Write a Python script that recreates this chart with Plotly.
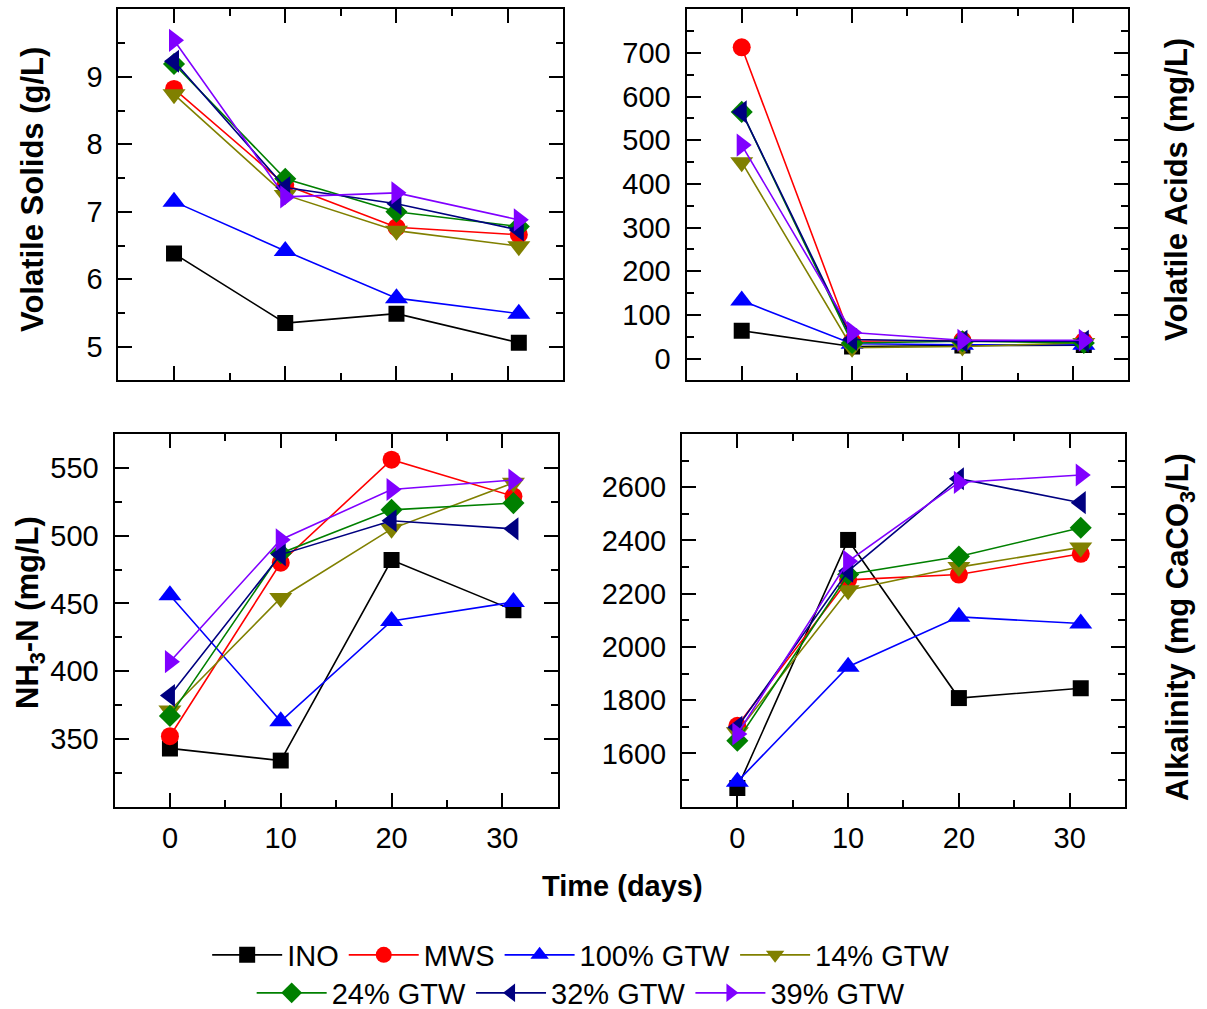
import plotly.graph_objects as go

# ---- data ----
time_days = [0, 10, 20, 31]
series_names = ["INO", "MWS", "100% GTW", "14% GTW", "24% GTW", "32% GTW", "39% GTW"]

vs_ino = [6.38, 5.35, 5.49, 5.06]
vs_mws = [8.82, 7.40, 6.77, 6.66]
vs_100 = [7.15, 6.42, 5.72, 5.49]
vs_14 = [8.74, 7.25, 6.72, 6.49]
vs_24 = [9.19, 7.49, 7.00, 6.78]
vs_32 = [9.23, 7.36, 7.12, 6.73]
vs_39 = [9.54, 7.22, 7.28, 6.88]

va_ino = [64, 28, 30, 31]
va_mws = [713, 40, 42, 40]
va_100 = [133, 34, 32, 32]
va_14 = [450, 25, 28, 36]
va_24 = [565, 36, 40, 36]
va_32 = [565, 44, 40, 40]
va_39 = [489, 60, 42, 42]

nh_ino = [343, 334, 482, 445]
nh_mws = [352, 480, 556, 529]
nh_100 = [456, 363, 437, 451]
nh_14 = [371, 454, 505, 539]
nh_24 = [367, 487, 519, 524]
nh_32 = [382, 486, 511, 505]
nh_39 = [407, 497, 534, 541]

alk_ino = [1470, 2402, 1808, 1845]
alk_mws = [1704, 2252, 2272, 2350]
alk_100 = [1494, 1926, 2113, 2088]
alk_14 = [1680, 2213, 2300, 2374]
alk_24 = [1648, 2272, 2340, 2448]
alk_32 = [1698, 2285, 2632, 2542]
alk_39 = [1673, 2322, 2618, 2646]

colors = ["#000000", "#FF0000", "#0000FF", "#808000", "#008000", "#000080", "#8000FF"]
symbols = ["square", "circle", "triangle-up", "triangle-down", "diamond", "triangle-left", "triangle-right"]
msizes = [16, 18, 20, 20, 17, 20, 20]

panels = [
    ([vs_ino, vs_mws, vs_100, vs_14, vs_24, vs_32, vs_39], "x", "y"),
    ([va_ino, va_mws, va_100, va_14, va_24, va_32, va_39], "x2", "y2"),
    ([nh_ino, nh_mws, nh_100, nh_14, nh_24, nh_32, nh_39], "x3", "y3"),
    ([alk_ino, alk_mws, alk_100, alk_14, alk_24, alk_32, alk_39], "x4", "y4"),
]

FONT = "Liberation Sans, Arial, sans-serif"
fig = go.Figure()

for p, (data, xa, ya) in enumerate(panels):
    for i, vals in enumerate(data):
        fig.add_trace(go.Scatter(
            x=time_days, y=vals, xaxis=xa, yaxis=ya,
            mode="lines+markers", name=series_names[i],
            line=dict(color=colors[i], width=1.6),
            marker=dict(symbol=symbols[i], size=msizes[i], color=colors[i], line=dict(width=0)),
            showlegend=(p == 0),
            legend="legend" if i < 4 else "legend2",
        ))

tickfont = dict(family=FONT, size=29, color="black")

def xaxis(domain, anchor, labels):
    return dict(domain=domain, anchor=anchor, range=[-5, 35],
                tickvals=[0, 10, 20, 30], showticklabels=labels,
                ticks="inside", ticklen=14, tickwidth=2, tickcolor="black",
                minor=dict(tickvals=[5, 15, 25], ticks="inside", ticklen=7, tickwidth=2, tickcolor="black"),
                showline=True, linewidth=2, linecolor="black", mirror="allticks",
                showgrid=False, zeroline=False, tickfont=tickfont, ticklabelstandoff=5)

def yaxis(domain, anchor, rng, major, minor):
    return dict(domain=domain, anchor=anchor, range=rng,
                tickvals=major, ticks="inside", ticklen=14, tickwidth=2, tickcolor="black",
                minor=dict(tickvals=minor, ticks="inside", ticklen=7, tickwidth=2, tickcolor="black"),
                showline=True, linewidth=2, linecolor="black", mirror="allticks",
                showgrid=False, zeroline=False, tickfont=tickfont, ticklabelstandoff=8)

top = [0.6229, 0.9908]
bot = [0.2005, 0.5699]

legfont = dict(family=FONT, size=29, color="black")

fig.update_layout(
    width=1207, height=1009,
    margin=dict(l=0, r=0, t=0, b=0, autoexpand=False),
    paper_bgcolor="white", plot_bgcolor="white",
    font=dict(family=FONT, color="black"),
    xaxis=xaxis([0.0981, 0.4667], "y", False),
    yaxis=yaxis(top, "x", [4.5, 10], [5, 6, 7, 8, 9], [5.5, 6.5, 7.5, 8.5, 9.5]),
    xaxis2=xaxis([0.5688, 0.9345], "y2", False),
    yaxis2=yaxis(top, "x2", [-50, 800], [0, 100, 200, 300, 400, 500, 600, 700],
                 [50, 150, 250, 350, 450, 550, 650, 750]),
    xaxis3=xaxis([0.0949, 0.4621], "y3", True),
    yaxis3=yaxis(bot, "x3", [300, 575], [350, 400, 450, 500, 550], [325, 375, 425, 475, 525]),
    xaxis4=xaxis([0.5650, 0.9321], "y4", True),
    yaxis4=yaxis(bot, "x4", [1400, 2800], [1600, 1800, 2000, 2200, 2400, 2600],
                 [1500, 1700, 1900, 2100, 2300, 2500, 2700]),
    legend=dict(orientation="h", x=0.4815, xanchor="center", y=1 - 955 / 1009, yanchor="middle",
                font=legfont, itemwidth=70, tracegroupgap=0, bgcolor="rgba(0,0,0,0)"),
    legend2=dict(orientation="h", x=0.4815, xanchor="center", y=1 - 993 / 1009, yanchor="middle",
                 font=legfont, itemwidth=70, tracegroupgap=0, bgcolor="rgba(0,0,0,0)"),
    showlegend=True,
)

vt_font = dict(family=FONT, size=31, color="black")
annos = [
    dict(text="<b>Volatile Solids (g/L)</b>", x=33 / 1207, y=1 - 190 / 1009, textangle=-90, font=vt_font),
    dict(text="<b>Volatile Acids (mg/L)</b>", x=1177 / 1207, y=1 - 190 / 1009, textangle=-90, font=vt_font),
    dict(text="<b>NH<sub>3</sub>-N (mg/L)</b>", x=30 / 1207, y=1 - 613 / 1009, textangle=-90, font=vt_font),
    dict(text="<b>Alkalinity (mg CaCO<sub>3</sub>/L)</b>", x=1180 / 1207, y=1 - 627 / 1009, textangle=-90,
         font=vt_font),
    dict(text="<b>Time (days)</b>", x=622 / 1207, y=1 - 886 / 1009, textangle=0,
         font=dict(family=FONT, size=29, color="black")),
]
for a in annos:
    fig.add_annotation(xref="paper", yref="paper", xanchor="center", yanchor="middle",
                       showarrow=False, **a)

fig.write_html("out.html")
